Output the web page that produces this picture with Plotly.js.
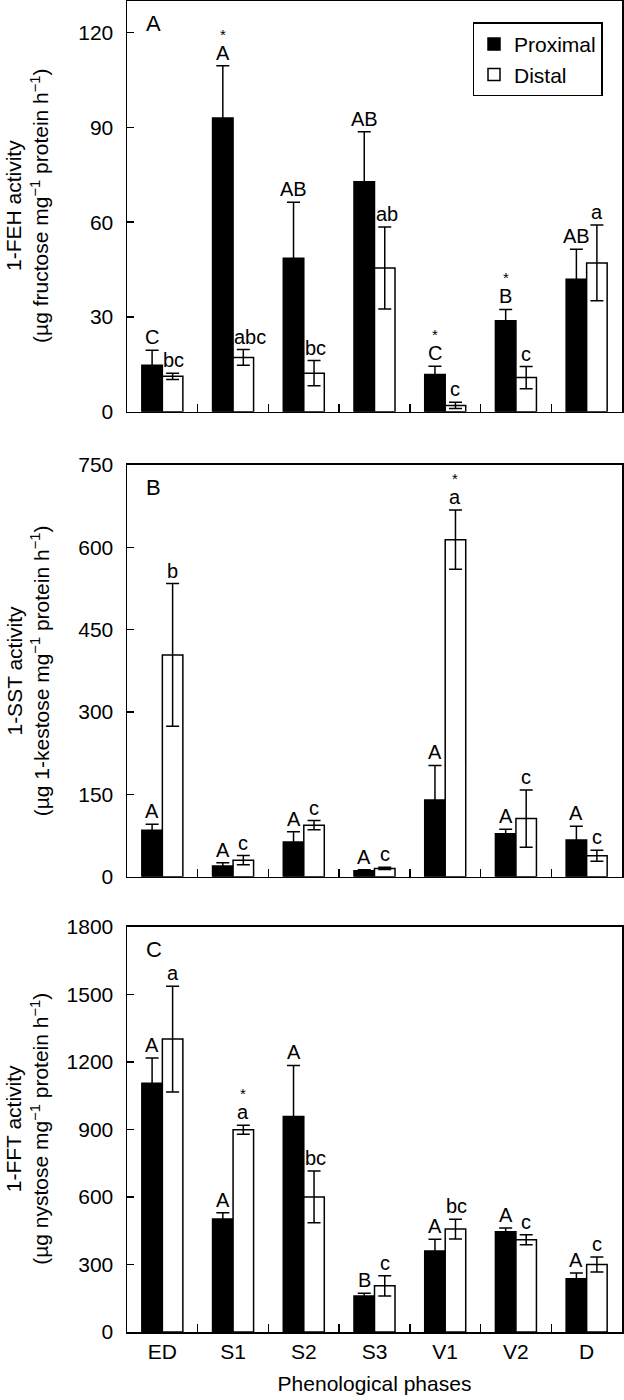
<!DOCTYPE html>
<html>
<head>
<meta charset="utf-8">
<script src="https://cdn.plot.ly/plotly-3.0.1.min.js"></script>
<style>html,body{margin:0;padding:0;background:#fff;}</style>
</head>
<body>
<div id="chart" style="width:624px;height:1400px;"></div>
<script>
// ---------- data ----------
const phases = ['ED', 'S1', 'S2', 'S3', 'V1', 'V2', 'D'];

// Panel A: 1-FEH activity
const feh_prox = [14.7, 93.0, 48.6, 72.8, 11.8, 28.8, 41.9];
const feh_prox_err = [4.8, 16.5, 17.7, 15.8, 2.6, 3.6, 9.5];
const feh_dist = [11.2, 17.2, 12.2, 45.5, 2.0, 10.8, 47.1];
const feh_dist_err = [1.0, 2.5, 4.0, 13.0, 1.0, 3.5, 12.0];
const feh_prox_letters = ['C', 'A', 'AB', 'AB', 'C', 'B', 'AB'];
const feh_dist_letters = ['bc', 'abc', 'bc', 'ab', 'c', 'c', 'a'];
const feh_prox_star = [false, true, false, false, true, true, false];
const feh_dist_star = [false, false, false, false, false, false, false];

// Panel B: 1-SST activity
const sst_prox = [84.7, 19.4, 63, 10.9, 139.7, 78, 67];
const sst_prox_err = [11, 6, 19, 1.5, 63, 8.5, 25];
const sst_dist = [404, 30, 93.8, 15, 614, 105.8, 38];
const sst_dist_err = [130, 8.5, 8.5, 2, 54, 52, 10];
const sst_prox_letters = ['A', 'A', 'A', 'A', 'A', 'A', 'A'];
const sst_dist_letters = ['b', 'c', 'c', 'c', 'a', 'c', 'c'];
const sst_prox_star = [false, false, false, false, false, false, false];
const sst_dist_star = [false, false, false, false, true, false, false];

// Panel C: 1-FFT activity
const fft_prox = [1105, 502, 957, 160, 360, 445, 237];
const fft_prox_err = [112, 28, 227, 12, 52, 17, 25];
const fft_dist = [1301, 898, 600, 205, 457, 410, 300];
const fft_dist_err = [235, 20, 115, 45, 44, 22, 33];
const fft_prox_letters = ['A', 'A', 'A', 'B', 'A', 'A', 'A'];
const fft_dist_letters = ['a', 'a', 'bc', 'c', 'bc', 'c', 'c'];
const fft_prox_star = [false, false, false, false, false, false, false];
const fft_dist_star = [false, true, false, false, false, false, false];

const seriesNames = ['Proximal', 'Distal'];
const panelLetters = ['A', 'B', 'C'];
const yTitles = [
  '1-FEH activity<br>(µg fructose mg<sup>−1</sup> protein h<sup>−1</sup>)',
  '1-SST activity<br>(µg 1-kestose mg<sup>−1</sup> protein h<sup>−1</sup>)',
  '1-FFT activity<br>(µg nystose mg<sup>−1</sup> protein h<sup>−1</sup>)'
];
const yRanges = [[0, 130], [0, 750], [0, 1800]];
const yDticks = [30, 150, 300];
const xTitle = 'Phenological phases';

// ---------- build ----------
const FONT = 'Liberation Sans, Arial, Helvetica, sans-serif';
const BARGAP = 0.42;
const OFF = (1 - BARGAP) / 4;

const panels = [
  {prox: feh_prox, pe: feh_prox_err, dist: feh_dist, de: feh_dist_err,
   pl: feh_prox_letters, dl: feh_dist_letters, ps: feh_prox_star, ds: feh_dist_star},
  {prox: sst_prox, pe: sst_prox_err, dist: sst_dist, de: sst_dist_err,
   pl: sst_prox_letters, dl: sst_dist_letters, ps: sst_prox_star, ds: sst_dist_star},
  {prox: fft_prox, pe: fft_prox_err, dist: fft_dist, de: fft_dist_err,
   pl: fft_prox_letters, dl: fft_dist_letters, ps: fft_prox_star, ds: fft_dist_star}
];

// domains (paper fractions) for the three panels
const domains = [[0.6914, 1.0], [0.3421, 0.6514], [0.0, 0.3045]];

const traces = [];
const annotations = [];
const layout = {
  width: 624, height: 1400,
  margin: {l: 127, r: 2, t: 1, b: 68},
  paper_bgcolor: '#fff', plot_bgcolor: '#fff',
  barmode: 'group', bargap: BARGAP, bargroupgap: 0,
  font: {family: FONT, size: 21, color: '#000'},
  showlegend: true,
  legend: {
    x: 0.698, y: 0.9839, xanchor: 'left', yanchor: 'top',
    bordercolor: '#000', borderwidth: 1.5, bgcolor: '#fff',
    font: {family: FONT, size: 21, color: '#000'},
    tracegroupgap: 0
  }
};

panels.forEach((p, k) => {
  const xs = k === 0 ? 'x' : 'x' + (k + 1);
  const ys = k === 0 ? 'y' : 'y' + (k + 1);
  const xk = k === 0 ? 'xaxis' : 'xaxis' + (k + 1);
  const yk = k === 0 ? 'yaxis' : 'yaxis' + (k + 1);

  traces.push({
    type: 'bar', name: seriesNames[0], x: phases, y: p.prox,
    xaxis: xs, yaxis: ys, showlegend: k === 0, legendgroup: 'p',
    marker: {color: '#000', line: {color: '#000', width: 1.5}},
    error_y: {type: 'data', array: p.pe, visible: true, color: '#000', thickness: 1.5, width: 6.5}
  });
  traces.push({
    type: 'bar', name: seriesNames[1], x: phases, y: p.dist,
    xaxis: xs, yaxis: ys, showlegend: k === 0, legendgroup: 'd',
    marker: {color: '#fff', line: {color: '#000', width: 1.5}},
    error_y: {type: 'data', array: p.de, visible: true, color: '#000', thickness: 1.5, width: 6.5}
  });

  layout[xk] = {
    domain: [0, 1], anchor: ys, type: 'category',
    range: [-0.5, phases.length - 0.5],
    tickson: 'boundaries', ticks: 'inside', ticklen: 8, tickwidth: 1.5, tickcolor: '#000',
    showline: true, mirror: true, linecolor: '#000', linewidth: 1.5,
    showgrid: false, zeroline: false,
    showticklabels: k === 2,
    tickfont: {family: FONT, size: 21, color: '#000'},
    fixedrange: true
  };
  if (k === 2) {
    layout[xk].title = {text: xTitle, font: {family: FONT, size: 21, color: '#000'}, standoff: 14};
  }
  layout[yk] = {
    domain: domains[k], anchor: xs,
    range: yRanges[k], dtick: yDticks[k], tick0: 0,
    ticks: 'inside', ticklen: 7, tickwidth: 1.5, tickcolor: '#000',
    ticklabelstandoff: 8,
    showline: true, mirror: true, linecolor: '#000', linewidth: 1.5,
    showgrid: false, zeroline: false,
    tickfont: {family: FONT, size: 21, color: '#000'},
    fixedrange: true
  };

  // y title
  annotations.push({
    xref: 'paper', yref: ys + ' domain', x: -0.201, y: 0.5,
    xanchor: 'center', yanchor: 'middle', textangle: -90,
    text: yTitles[k], showarrow: false,
    font: {family: FONT, size: 21, color: '#000'}
  });
  // panel letter
  annotations.push({
    xref: xs + ' domain', yref: ys + ' domain', x: 0.034, y: 1,
    xanchor: 'left', yanchor: 'top', yshift: -8,
    text: panelLetters[k], showarrow: false,
    font: {family: FONT, size: 22, color: '#000'}
  });

  // significance letters and stars
  const groups = [
    {v: p.prox, e: p.pe, l: p.pl, s: p.ps, d: -OFF, distal: false},
    {v: p.dist, e: p.de, l: p.dl, s: p.ds, d: OFF, distal: true}
  ];
  groups.forEach(g => {
    g.v.forEach((val, i) => {
      const top = val + g.e[i];
      const multi = g.distal && g.l[i].length > 1;
      annotations.push({
        xref: xs, yref: ys,
        x: multi ? i : i + g.d, y: top,
        xanchor: multi ? 'left' : 'center', yanchor: 'bottom',
        xshift: multi ? -1 : 0, yshift: 0,
        text: g.l[i], showarrow: false,
        font: {family: FONT, size: 20, color: '#000'}
      });
      if (g.s[i]) {
        annotations.push({
          xref: xs, yref: ys, x: i + g.d, y: top,
          xanchor: 'center', yanchor: 'bottom', yshift: 21,
          text: '*', showarrow: false,
          font: {family: FONT, size: 15, color: '#000'}
        });
      }
    });
  });
});

layout.annotations = annotations;

Plotly.newPlot('chart', traces, layout, {displayModeBar: false, staticPlot: true});
</script>
</body>
</html>
